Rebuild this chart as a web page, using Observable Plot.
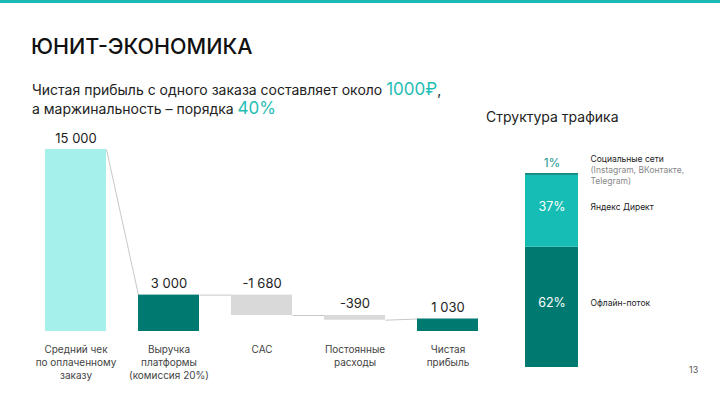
<!DOCTYPE html>
<html>
<head>
<meta charset="utf-8">
<script src="https://cdn.jsdelivr.net/npm/d3@7"></script>
<script src="https://cdn.jsdelivr.net/npm/@observablehq/plot@0.6"></script>
<style>
  html, body { margin: 0; padding: 0; background: #fff; }
  body { font-family: Inter, "Noto Sans", sans-serif; }
  #wrap { position: relative; width: 720px; height: 405px; overflow: hidden; background: #fff; }
  .abs { position: absolute; white-space: nowrap; }
  #band { left: 0; top: 0; width: 720px; height: 3px; background: #1bb9b6; }
  #title { left: 31px; top: 33px; font-size: 21.5px; font-weight: 500; color: #111; }
  #sub { left: 32px; top: 80px; font-size: 14px; line-height: 18px; color: #222; }
  #sub .hl { color: #1fbdb5; font-size: 17px; }
  #rtitle { left: 486px; top: 108px; font-size: 14px; color: #222; }
  #page { left: 689px; top: 364px; font-size: 9px; color: #555; }
  svg.plot { position: absolute; left: 0; top: 0; }
</style>
</head>
<body>
<div id="wrap">
  <div id="band" class="abs"></div>
  <div id="title" class="abs">ЮНИТ-ЭКОНОМИКА</div>
  <div id="sub" class="abs">Чистая прибыль с одного заказа составляет около <span class="hl">1000₽</span>,<br>а маржинальность – порядка <span class="hl">40%</span></div>
  <div id="rtitle" class="abs">Структура трафика</div>
  <div id="page" class="abs">13</div>
</div>
<script>
// ---- Waterfall data ----
const categories = [
  "Средний чек\nпо оплаченному\nзаказу",
  "Выручка\nплатформы\n(комиссия 20%)",
  "CAC",
  "Постоянные\nрасходы",
  "Чистая\nприбыль"
];
const values = [15000, 3000, -1680, -390, 1030];
const valueLabels = ["15 000", "3 000", "-1 680", "-390", "1 030"];
const kinds = ["start", "total", "delta", "delta", "total"];

// ---- Traffic structure data ----
const trafficSources = ["Офлайн-поток", "Яндекс Директ", "Социальные сети"];
const trafficNotes = ["", "", "(Instagram, ВКонтакте,\nTelegram)"];
const trafficShares = [62, 37, 1];
const trafficLabels = ["62%", "37%", "1%"];

// build waterfall table
let running = 0;
const wf = categories.map((c, i) => {
  let lo, hi;
  if (kinds[i] === "delta") {
    const next = running + values[i];
    lo = Math.min(running, next); hi = Math.max(running, next);
    running = next;
  } else {
    lo = 0; hi = values[i]; running = values[i];
  }
  return {i, cat: c, lo, hi, label: valueLabels[i], kind: kinds[i], end: running};
});
const halfW = 0.328;
const links = [];
for (let k = 0; k < wf.length - 1; k++) {
  const a = wf[k], b = wf[k + 1];
  let yA, yB;
  if (b.kind === "delta") { yA = a.end; yB = a.end; }
  else { yA = a.kind === "delta" ? a.lo : a.hi; yB = b.hi; }
  if (a.kind === "start") yA = a.hi;
  links.push({x1: a.i + halfW, x2: b.i - halfW, y1: yA, y2: yB});
}
const fillFor = d => d.kind === "start" ? "#a6f0ec" : d.kind === "total" ? "#007a70" : "#d9d9d9";
const font = "Inter, 'Noto Sans', sans-serif";

const wfPlot = Plot.plot({
  width: 720, height: 405,
  marginLeft: 45, marginRight: 242, marginTop: 149, marginBottom: 74,
  x: {type: "linear", domain: [-halfW, 4 + halfW], axis: null},
  y: {domain: [0, 15000], axis: null},
  style: {fontFamily: font, background: "transparent", overflow: "visible"},
  marks: [
    Plot.link(links, {x1: "x1", x2: "x2", y1: "y1", y2: "y2", stroke: "#c8c8c8", strokeWidth: 1}),
    Plot.rectY(wf, {x1: d => d.i - halfW, x2: d => d.i + halfW, y1: "lo", y2: "hi", fill: fillFor}),
    Plot.text(wf, {x: "i", y: "hi", text: "label", dy: -7, lineAnchor: "bottom", fontSize: 13, fill: "#222"}),
    Plot.text(wf, {x: "i", y: () => 0, text: "cat", dy: 12, lineAnchor: "top", fontSize: 10, lineHeight: 1.3, fill: "#444"})
  ]
});
wfPlot.classList.add("plot");
document.getElementById("wrap").appendChild(wfPlot);

// traffic stacked bar
const traffic = trafficSources.map((s, i) => ({bar: "Трафик", source: s, note: trafficNotes[i], share: trafficShares[i], label: trafficLabels[i]}));
const colors = {"Офлайн-поток": "#007a70", "Яндекс Директ": "#15bdb4", "Социальные сети": "#178a80"};
const stackOpts = {x: "bar", y: "share"};
const isBig = d => d.share >= 5;

const tPlot = Plot.plot({
  width: 720, height: 405,
  marginLeft: 525, marginRight: 142, marginTop: 173, marginBottom: 38,
  x: {type: "band", domain: ["Трафик"], padding: 0, axis: null},
  y: {domain: [0, 100], axis: null},
  style: {fontFamily: font, background: "transparent", overflow: "visible"},
  marks: [
    Plot.barY(traffic, Plot.stackY({...stackOpts, fill: d => colors[d.source]})),
    // percentages inside the bar
    Plot.text(traffic, Plot.stackY({...stackOpts, text: d => isBig(d) ? d.label : null, fill: "white", fontSize: 12.5, dy: -4})),
    // small share label above the bar
    Plot.text(traffic, Plot.stackY2({...stackOpts, text: d => isBig(d) ? null : d.label, fill: "#1a9a90", fontSize: 12, lineAnchor: "bottom", dy: -7})),
    // legend labels for big segments
    Plot.text(traffic, Plot.stackY({...stackOpts, text: d => isBig(d) ? d.source : null, fill: "#222", fontSize: 8.5, textAnchor: "start", dx: 38.5, dy: -4})),
    // legend label for small segment
    Plot.text(traffic, Plot.stackY2({...stackOpts, text: d => isBig(d) ? null : d.source, fill: "#222", fontSize: 8.5, textAnchor: "start", dx: 38.5, lineAnchor: "bottom", dy: -12})),
    Plot.text(traffic, Plot.stackY2({...stackOpts, text: d => d.note || null, fill: "#888", fontSize: 8.5, lineHeight: 1.25, textAnchor: "start", dx: 38.5, lineAnchor: "top", dy: -8}))
  ]
});
tPlot.classList.add("plot");
document.getElementById("wrap").appendChild(tPlot);
</script>
</body>
</html>
